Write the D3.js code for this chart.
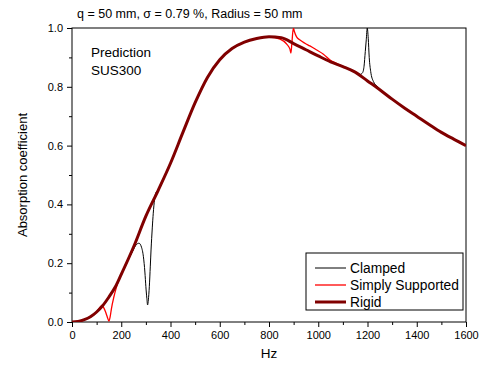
<!DOCTYPE html>
<html lang="en">

<head>
    <meta charset="UTF-8">
    <title>Absorption coefficient</title>
    <script src="https://d3js.org/d3.v7.min.js"></script>
    <style>
        body {
            margin: 0;
            background: #fff;
        }
        text {
            font-family: Arial, "Liberation Sans", sans-serif;
            fill: #000;
        }
    </style>
</head>

<body>
    <svg id="chart" width="483" height="365"></svg>
    <script>
        // values
        const rigidHz = [0, 25, 50, 75, 100, 125, 150, 175, 200, 250, 300, 350, 400, 450, 500, 550, 600, 650, 700, 750,
            800, 850, 900, 950, 1000, 1050, 1100, 1150, 1200, 1250, 1300, 1350, 1400, 1450, 1500, 1550, 1600];
        const rigidAbs = [0, 0.002, 0.008, 0.018, 0.034, 0.056, 0.085, 0.118, 0.162, 0.255, 0.36, 0.448, 0.54, 0.644, 0.746, 0.832, 0.892, 0.93, 0.952, 0.964,
            0.97, 0.967, 0.947, 0.926, 0.905, 0.885, 0.869, 0.85, 0.82, 0.79, 0.758, 0.728, 0.70, 0.672, 0.645, 0.622, 0.6];

        const clampedHz = [0, 50, 100, 150, 200, 225, 249, 260, 272, 282, 290, 296, 300, 304, 307, 310, 314, 318, 321, 326, 330, 335, 340, 350,
            400, 450, 500, 550, 600, 650, 700, 750, 800, 850, 900, 950, 1000, 1050, 1100, 1150, 1170, 1180, 1186, 1191, 1195, 1199, 1203, 1207, 1213, 1224, 1244, 1264,
            1300, 1350, 1400, 1450, 1500, 1550, 1600];
        const clampedAbs = [0, 0.008, 0.034, 0.085, 0.16, 0.205, 0.245, 0.262, 0.268, 0.255, 0.222, 0.17, 0.12, 0.08, 0.058, 0.075, 0.12, 0.19, 0.245, 0.32, 0.37, 0.415, 0.438, 0.45,
            0.54, 0.644, 0.746, 0.832, 0.892, 0.93, 0.952, 0.964, 0.97, 0.967, 0.947, 0.926, 0.905, 0.885, 0.869, 0.85, 0.842, 0.848, 0.87, 0.92, 0.96, 1.0, 0.965, 0.9, 0.852, 0.818, 0.798, 0.782,
            0.758, 0.728, 0.70, 0.672, 0.645, 0.622, 0.6];

        const simplyHz = [0, 50, 100, 110, 120, 128, 136, 143, 150, 155, 160, 170, 180, 190, 200, 250, 300, 350, 400, 450, 500, 550, 600, 650, 700, 750, 800,
            845, 872, 885, 889, 893, 899, 903, 912, 926, 946, 966, 994, 1021, 1048, 1075, 1100, 1150, 1200, 1250, 1300, 1350, 1400, 1450, 1500, 1550, 1600];
        const simplyAbs = [0, 0.008, 0.034, 0.046, 0.055, 0.05, 0.035, 0.018, 0.003, 0.018, 0.045, 0.085, 0.117, 0.143, 0.162, 0.255, 0.36, 0.448, 0.54, 0.644, 0.746, 0.832, 0.892, 0.93, 0.952, 0.964, 0.969,
            0.962, 0.945, 0.928, 0.915, 0.95, 1.0, 0.988, 0.97, 0.959, 0.948, 0.939, 0.925, 0.911, 0.891, 0.879, 0.869, 0.85, 0.82, 0.79, 0.758, 0.728, 0.70, 0.672, 0.645, 0.622, 0.6];

        const xTicks = [0, 200, 400, 600, 800, 1000, 1200, 1400, 1600];
        const xMinor = [100, 300, 500, 700, 900, 1100, 1300, 1500];
        const yTicks = [0, 0.2, 0.4, 0.6, 0.8, 1.0];
        const yMinor = [0.1, 0.3, 0.5, 0.7, 0.9];

        const seriesNames = ["Clamped", "Simply Supported", "Rigid"];
        const seriesColors = ["#000000", "#ff0000", "#800000"];
        const seriesWidths = [1, 1.3, 3];

        const svg = d3.select("#chart");
        const margin = { left: 72, right: 17, top: 28, bottom: 43 };
        const width = +svg.attr("width");
        const height = +svg.attr("height");

        const x = d3.scaleLinear().domain([0, 1600]).range([margin.left, width - margin.right]);
        const y = d3.scaleLinear().domain([0, 1]).range([height - margin.bottom, margin.top]);

        svg.append("defs").append("clipPath").attr("id", "plotClip")
            .append("rect")
            .attr("x", x(0)).attr("y", y(1))
            .attr("width", x(1600) - x(0)).attr("height", y(0) - y(1));

        // axes (major + minor ticks, outward)
        svg.append("g")
            .attr("transform", `translate(0,${y(0)})`)
            .call(d3.axisBottom(x).tickValues(xTicks).tickSize(5).tickPadding(4).tickFormat(d3.format("d")));
        svg.append("g")
            .attr("transform", `translate(0,${y(0)})`)
            .call(d3.axisBottom(x).tickValues(xMinor).tickSize(3).tickFormat(""));
        svg.append("g")
            .attr("transform", `translate(${x(0)},0)`)
            .call(d3.axisLeft(y).tickValues(yTicks).tickSize(5).tickPadding(4).tickFormat(d3.format(".1f")));
        svg.append("g")
            .attr("transform", `translate(${x(0)},0)`)
            .call(d3.axisLeft(y).tickValues(yMinor).tickSize(3).tickFormat(""));

        svg.selectAll(".domain").remove();
        svg.selectAll(".tick text").style("font-size", "11px").style("font-family", "Arial, 'Liberation Sans', sans-serif");
        svg.selectAll(".tick line").attr("stroke", "#000");

        // frame
        svg.append("rect")
            .attr("x", x(0)).attr("y", y(1))
            .attr("width", x(1600) - x(0)).attr("height", y(0) - y(1))
            .attr("fill", "none").attr("stroke", "#000").attr("stroke-width", 1);

        const line = d3.line()
            .x(d => x(d[0]))
            .y(d => y(d[1]))
            .curve(d3.curveMonotoneX);

        const series = [
            d3.zip(clampedHz, clampedAbs),
            d3.zip(simplyHz, simplyAbs),
            d3.zip(rigidHz, rigidAbs)
        ];

        svg.append("g")
            .attr("clip-path", "url(#plotClip)")
            .selectAll("path")
            .data(series)
            .enter().append("path")
            .attr("d", line)
            .attr("fill", "none")
            .attr("stroke", (d, i) => seriesColors[i])
            .attr("stroke-width", (d, i) => seriesWidths[i])
            .attr("stroke-linejoin", "round");

        // texts
        svg.append("text")
            .attr("x", 77).attr("y", 18)
            .style("font-size", "12.5px")
            .text("q = 50 mm, σ = 0.79 %, Radius = 50 mm");

        svg.append("text").attr("x", 91).attr("y", 57).style("font-size", "13.5px").text("Prediction");
        svg.append("text").attr("x", 91).attr("y", 75).style("font-size", "13.5px").text("SUS300");

        svg.append("text")
            .attr("x", (x(0) + x(1600)) / 2).attr("y", 358)
            .attr("text-anchor", "middle")
            .style("font-size", "13.5px")
            .text("Hz");

        svg.append("text")
            .attr("transform", `translate(27,${(y(0) + y(1)) / 2}) rotate(-90)`)
            .attr("text-anchor", "middle")
            .style("font-size", "13px")
            .text("Absorption coefficient");

        // legend
        const legend = svg.append("g");
        legend.append("rect")
            .attr("x", 306).attr("y", 253).attr("width", 157).attr("height", 57)
            .attr("fill", "#fff").attr("stroke", "#000").attr("stroke-width", 1);
        const items = legend.selectAll("g.item")
            .data(seriesNames)
            .enter().append("g")
            .attr("class", "item")
            .attr("transform", (d, i) => `translate(0,${268 + i * 17})`);
        items.append("line")
            .attr("x1", 315).attr("x2", 346)
            .attr("stroke", (d, i) => seriesColors[i])
            .attr("stroke-width", (d, i) => seriesWidths[i]);
        items.append("text")
            .attr("x", 350).attr("y", 5)
            .style("font-size", "13.8px")
            .text(d => d);
    </script>
</body>
</html>
